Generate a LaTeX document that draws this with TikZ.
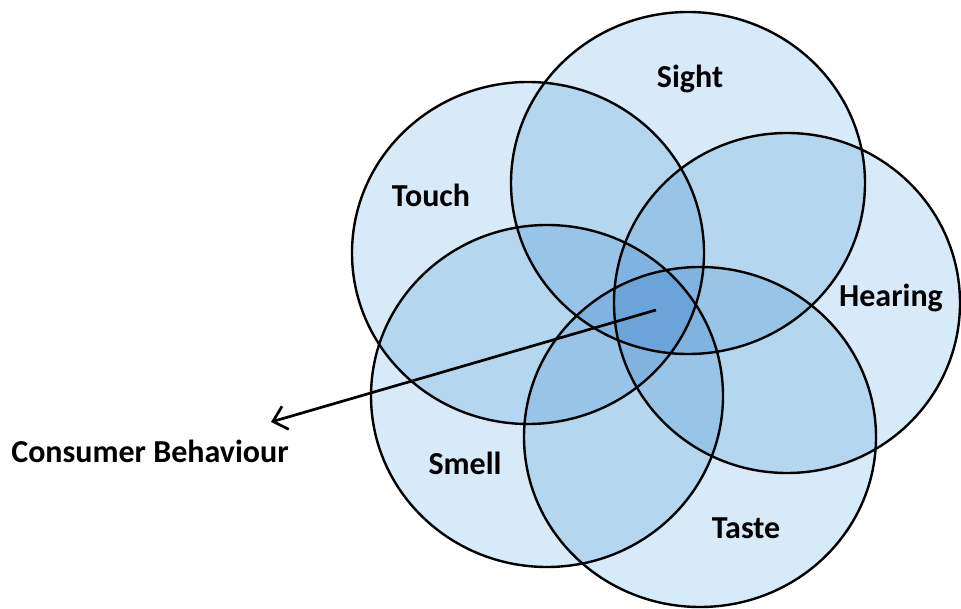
\documentclass[tikz,border=0pt]{standalone}
\usepackage{fontspec}
\setmainfont{Carlito}
\usetikzlibrary{arrows.meta}
\begin{document}
\begin{tikzpicture}[x=1pt,y=1pt]
\definecolor{sense}{RGB}{215,234,247}
\tikzset{
  senseline/.style={draw=black, line width=2.4pt},
  lbl/.style={font=\fontsize{32}{37}\selectfont\bfseries, anchor=base, inner sep=0pt},
  pointer/.style={line width=2.7pt, -{Straight Barb[length=13pt,width=24pt,line width=2.7pt]}}
}
\useasboundingbox (0,0) rectangle (961,608);
% ellipse centres
\coordinate (touchc) at (528,355);
\coordinate (sightc) at (688,425);
\coordinate (hearc) at (787,305);
\coordinate (smellc) at (547,212);
\coordinate (tastec) at (700,171);
\begin{scope}[blend group=multiply]
\fill[sense] (touchc) ellipse [x radius=176pt, y radius=171pt];
\fill[sense] (sightc) ellipse [x radius=177pt, y radius=171pt];
\fill[sense] (hearc) ellipse [x radius=173pt, y radius=170pt];
\fill[sense] (smellc) ellipse [x radius=176pt, y radius=171pt];
\fill[sense] (tastec) ellipse [x radius=176pt, y radius=170pt];
\end{scope}
\draw[senseline] (touchc) ellipse [x radius=176pt, y radius=171pt];
\draw[senseline] (sightc) ellipse [x radius=177pt, y radius=171pt];
\draw[senseline] (hearc) ellipse [x radius=173pt, y radius=170pt];
\draw[senseline] (smellc) ellipse [x radius=176pt, y radius=171pt];
\draw[senseline] (tastec) ellipse [x radius=176pt, y radius=170pt];
% labels
\node[lbl] (sight) at (690,520) {Sight};
\node[lbl] (touch) at (431,401) {Touch};
\node[lbl] (hearing) at (891,301) {Hearing};
\node[lbl] (smell) at (465,133) {Smell};
\node[lbl] (taste) at (746,70) {Taste};
\node[lbl] (consumer) at (150,145) {Consumer Behaviour};
% pointer
\coordinate (core) at (656,298);
\coordinate (tip) at (271,186);
\draw[pointer] (core) -- (tip);
\end{tikzpicture}
\end{document}
